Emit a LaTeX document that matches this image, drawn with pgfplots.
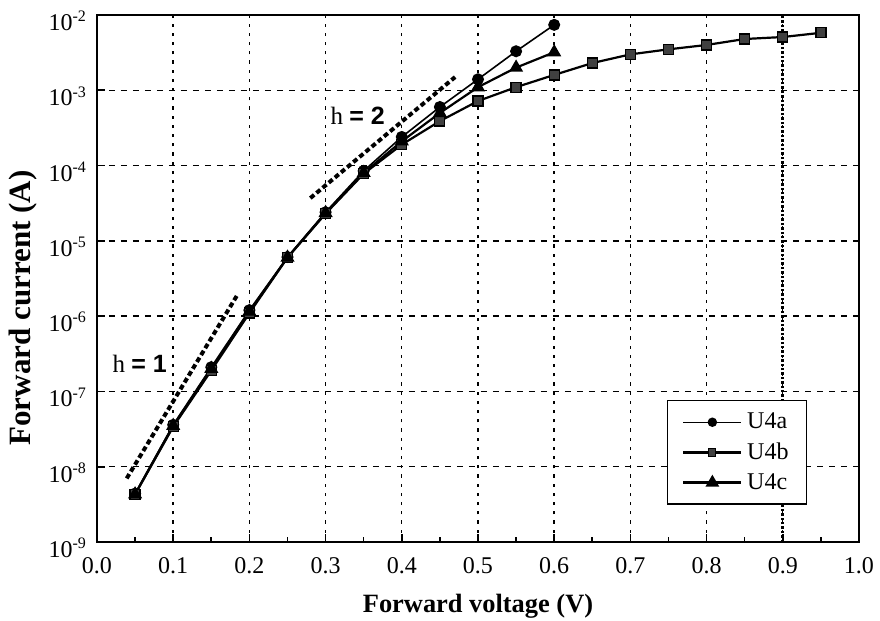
\documentclass[border=0pt]{standalone}
\usepackage{fontspec}
\setmainfont{Liberation Serif}
\newfontfamily\sansb{Liberation Sans}
\usepackage{pgfplots}
\pgfplotsset{compat=1.18}
\begin{document}
\begin{tikzpicture}
\useasboundingbox (-48.5pt,-39.5pt) rectangle (391.5pt,271pt);
\begin{axis}[
  scale only axis, width=381pt, height=263.5pt,
  at={(0,0)}, anchor=south west,
  ymode=log, xmin=0, xmax=1, ymin=1e-9, ymax=1e-2,
  xtick={0,0.1,0.2,0.3,0.4,0.5,0.6,0.7,0.8,0.9,1.0},
  xticklabels={0.0,0.1,0.2,0.3,0.4,0.5,0.6,0.7,0.8,0.9,1.0},
  minor xtick={0.05,0.15,0.25,0.35,0.45,0.55,0.65,0.75,0.85,0.95},
  ytick={1e-9,1e-8,1e-7,1e-6,1e-5,1e-4,1e-3,1e-2},
  yticklabels={10\textsuperscript{-9},10\textsuperscript{-8},10\textsuperscript{-7},10\textsuperscript{-6},10\textsuperscript{-5},10\textsuperscript{-4},10\textsuperscript{-3},10\textsuperscript{-2}},
  yminorticks=false,
  tick pos=left, tick align=inside,
  major tick length=4pt, minor tick length=2.5pt,
  tick style={black, line width=0.8pt},
  ticklabel style={font=\fontsize{12}{14}\selectfont},
  xticklabel style={yshift=-4pt},
  yticklabel style={xshift=-1.5pt, yshift=-3pt},
  ymajorgrids, xmajorgrids,
  x grid style={black, line width=0.7pt, dash pattern=on 1.6pt off 3pt},
  y grid style={black, line width=0.7pt, dash pattern=on 3pt off 3pt},
  axis line style={black, line width=0.7pt},
  xlabel={\fontsize{13.2}{15}\selectfont\bfseries Forward voltage (V)},
  ylabel={\fontsize{15.5}{17}\selectfont\bfseries Forward current (A)},
  xlabel style={at={(axis description cs:0.5,0)}, anchor=base, yshift=-35pt},
  ylabel style={at={(axis description cs:-0.097,0.444)}, anchor=center},
  legend style={at={(0.748,0.269)}, anchor=north west, draw=black, line width=0.6pt,
    font=\fontsize{12}{14}\selectfont, row sep=1.5pt, inner xsep=7pt, inner ysep=4pt},
  legend cell align=left,
  legend image code/.code={\draw[#1] (0pt,0pt) -- (29pt,0pt); \path[#1, solid] plot coordinates {(14.5pt,0pt)};},
]
\addlegendimage{black, line width=0.7pt, mark=*, mark size=2pt}
\addlegendentry{U4a}
\addlegendimage{black, line width=1.8pt, mark=square*, mark size=1.8pt, mark options={fill=black!75, draw=black, line width=0.5pt}}
\addlegendentry{U4b}
\addlegendimage{black, line width=1.8pt, mark=triangle*, mark size=2.2pt}
\addlegendentry{U4c}
\addplot[black, line width=0.8pt, mark=*, mark size=2.6pt, forget plot] coordinates {
 (0.05,4.4e-9) (0.10,3.6e-8) (0.15,2.1e-7) (0.20,1.2e-6) (0.25,6.1e-6) (0.30,2.4e-5)
 (0.35,8.5e-5) (0.40,2.4e-4) (0.45,6.0e-4) (0.50,1.4e-3) (0.55,3.3e-3) (0.60,7.4e-3)};
\addplot[black, line width=1.1pt, mark=square*, mark size=2.5pt, mark options={fill=black!75, draw=black, line width=0.6pt}, forget plot] coordinates {
 (0.05,4.3e-9) (0.10,3.4e-8) (0.15,1.9e-7) (0.20,1.1e-6) (0.25,6.0e-6) (0.30,2.3e-5)
 (0.35,7.8e-5) (0.40,1.9e-4) (0.45,3.9e-4) (0.50,7.2e-4) (0.55,1.1e-3) (0.60,1.6e-3)
 (0.65,2.3e-3) (0.70,3.0e-3) (0.75,3.5e-3) (0.80,4.0e-3) (0.85,4.8e-3) (0.90,5.1e-3) (0.95,5.8e-3)};
\addplot[black, line width=1.1pt, mark=triangle*, mark size=3pt, forget plot] coordinates {
 (0.05,4.3e-9) (0.10,3.5e-8) (0.15,2.0e-7) (0.20,1.15e-6) (0.25,6.0e-6) (0.30,2.35e-5)
 (0.35,8.0e-5) (0.40,2.1e-4) (0.45,5.0e-4) (0.50,1.1e-3) (0.55,2.0e-3) (0.60,3.2e-3)};
\addplot[black, line width=2pt, dash pattern=on 2.5pt off 1.5pt, forget plot] coordinates {(0.039,7e-9) (0.184,1.9e-6)};
\addplot[black, line width=2pt, dash pattern=on 2.5pt off 1.5pt, forget plot] coordinates {(0.28,3.7e-5) (0.47,1.5e-3)};
\draw[black, line width=1.3pt, dash pattern=on 1.2pt off 1pt] (axis cs:0.9,1e-9) -- (axis cs:0.9,1e-2);
\draw[black, line width=1.5pt] (rel axis cs:0,1) -- (rel axis cs:0,0) -- (rel axis cs:1,0);
\node[anchor=base west, inner sep=0pt, font=\fontsize{12.5}{14}\selectfont] at (axis cs:0.306,3.5e-4) {h {\sansb\bfseries = 2}};
\node[anchor=base west, inner sep=0pt, font=\fontsize{12.5}{14}\selectfont] at (axis cs:0.02,1.8e-7) {h {\sansb\bfseries = 1}};
\end{axis}
\end{tikzpicture}
\end{document}
